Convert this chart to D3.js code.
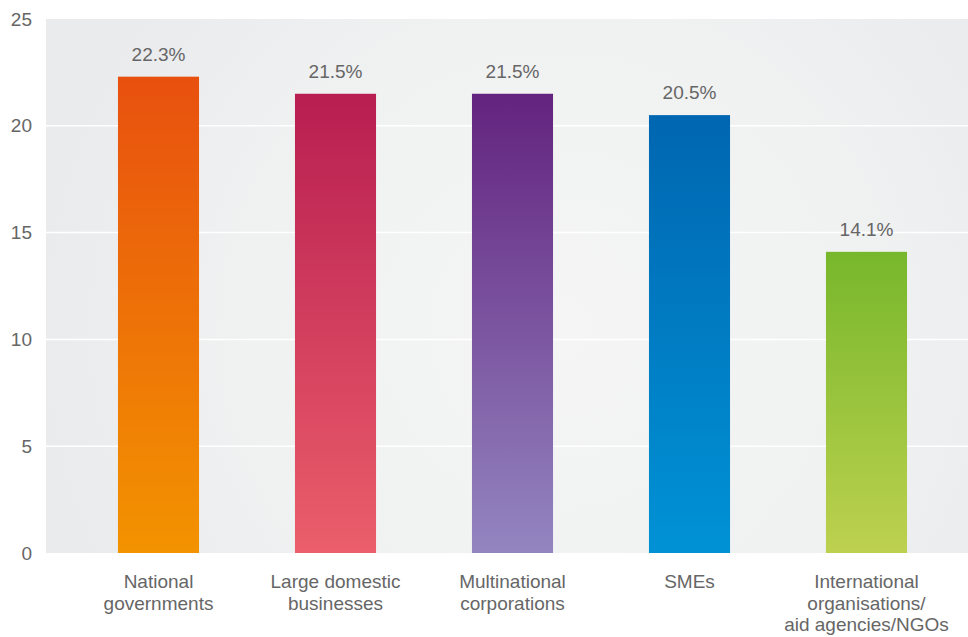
<!DOCTYPE html>
<html>
<head>
<meta charset="utf-8">
<script src="https://cdn.jsdelivr.net/npm/d3@7"></script>
<style>
  html, body { margin: 0; padding: 0; background: #ffffff; }
  svg { display: block; }
  text { font-family: "Liberation Sans", Arial, Helvetica, sans-serif; }
</style>
</head>
<body>
<svg id="chart" width="968" height="637"></svg>
<script>
// ---- data ----
const categories = [
  ["National", "governments"],
  ["Large domestic", "businesses"],
  ["Multinational", "corporations"],
  ["SMEs"],
  ["International", "organisations/", "aid agencies/NGOs"]
];
const values = [22.3, 21.5, 21.5, 20.5, 14.1];
const valueLabels = ["22.3%", "21.5%", "21.5%", "20.5%", "14.1%"];
const yTicks = [0, 5, 10, 15, 20, 25];
const barTopColors = ["#e8500f", "#b81e51", "#63237f", "#0066b1", "#77b72b"];
const barBottomColors = ["#f39300", "#eb5e6a", "#9385c0", "#0092d5", "#bdd14f"];

// ---- layout ----
const svg = d3.select("#chart");
const plot = { left: 46, right: 968, top: 19, bottom: 553 };

const x = d3.scaleBand()
  .domain(d3.range(values.length))
  .range([70, 955])
  .paddingInner(0.542)
  .paddingOuter(0.271);

const y = d3.scaleLinear().domain([0, 25]).range([plot.bottom, plot.top]);

const defs = svg.append("defs");
const bg = defs.append("radialGradient")
  .attr("id", "bgGrad")
  .attr("gradientUnits", "userSpaceOnUse")
  .attr("cx", 560).attr("cy", 330).attr("r", 520);
bg.append("stop").attr("offset", "0%").attr("stop-color", "#f5f5f5");
bg.append("stop").attr("offset", "60%").attr("stop-color", "#f0f1f1");
bg.append("stop").attr("offset", "100%").attr("stop-color", "#eaebed");

values.forEach((v, i) => {
  const g = defs.append("linearGradient")
    .attr("id", "barGrad" + i)
    .attr("x1", 0).attr("y1", 0).attr("x2", 0).attr("y2", 1);
  g.append("stop").attr("offset", "0%").attr("stop-color", barTopColors[i]);
  g.append("stop").attr("offset", "100%").attr("stop-color", barBottomColors[i]);
});

// background
svg.append("rect")
  .attr("x", plot.left).attr("y", plot.top)
  .attr("width", plot.right - plot.left).attr("height", plot.bottom - plot.top)
  .attr("fill", "url(#bgGrad)");

// gridlines
svg.append("g").selectAll("line")
  .data(yTicks.filter(t => t > 0 && t < 25))
  .join("line")
  .attr("x1", plot.left).attr("x2", plot.right)
  .attr("y1", d => y(d)).attr("y2", d => y(d))
  .attr("stroke", "#ffffff").attr("stroke-width", 1.5);

// y axis
const yAxis = d3.axisLeft(y).tickValues(yTicks).tickSize(0).tickPadding(0);
const yg = svg.append("g").attr("transform", "translate(32,0)").call(yAxis);
yg.select(".domain").remove();
yg.selectAll("text")
  .attr("font-size", "19px")
  .attr("fill", "#666666")
  .attr("font-family", "'Liberation Sans', Arial, sans-serif");

// bars
svg.append("g").selectAll("rect")
  .data(values)
  .join("rect")
  .attr("x", (d, i) => x(i))
  .attr("y", d => y(d))
  .attr("width", x.bandwidth())
  .attr("height", d => y(0) - y(d))
  .attr("fill", (d, i) => "url(#barGrad" + i + ")");

// value labels
svg.append("g").selectAll("text")
  .data(values)
  .join("text")
  .attr("x", (d, i) => x(i) + x.bandwidth() / 2)
  .attr("y", d => y(d) - 16)
  .attr("text-anchor", "middle")
  .attr("font-size", "19px")
  .attr("fill", "#666666")
  .text((d, i) => valueLabels[i]);

// category labels
const xg = svg.append("g");
categories.forEach((lines, i) => {
  const t = xg.append("text")
    .attr("x", x(i) + x.bandwidth() / 2)
    .attr("y", 588)
    .attr("text-anchor", "middle")
    .attr("font-size", "19px")
    .attr("fill", "#666666");
  lines.forEach((ln, j) => {
    t.append("tspan")
      .attr("x", x(i) + x.bandwidth() / 2)
      .attr("y", 588 + j * 21.5)
      .text(ln);
  });
});
</script>
</body>
</html>
